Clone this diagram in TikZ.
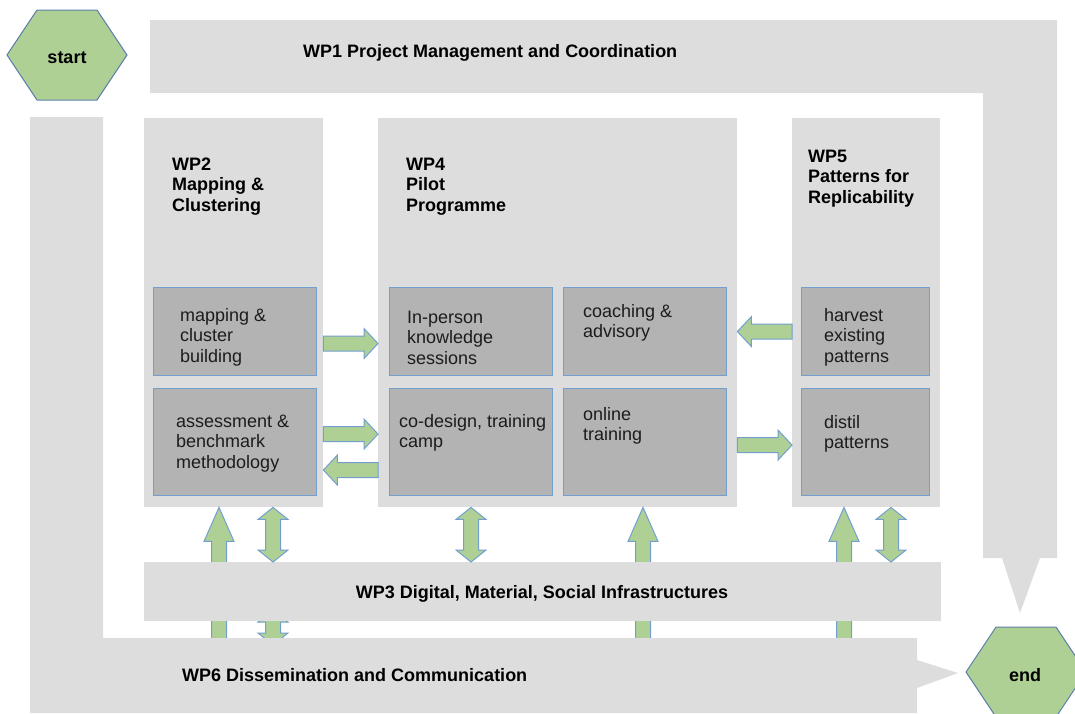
\documentclass[tikz,border=0pt]{standalone}
\usepackage{fontspec}
\setmainfont{Liberation Sans}
\usetikzlibrary{calc}

\definecolor{bandgray}{HTML}{DDDDDD}
\definecolor{boxgray}{HTML}{B3B3B3}
\definecolor{boxblue}{HTML}{729FCF}
\definecolor{leafgreen}{HTML}{AFD095}
\definecolor{hexblue}{HTML}{5B80AA}
\definecolor{inkgray}{HTML}{1C1C1C}

\tikzset{
    head len/.store in=\headlen, head len=14,
    band/.style={fill=bandgray, draw=none},
    panel/.style={band, anchor=north west, inner sep=0pt},
    task/.style={fill=boxgray, draw=boxblue, line width=1.1pt, anchor=north west, inner sep=0pt},
    body/.style={font=\fontsize{18}{20.5}\selectfont, text=inkgray, align=left, inner sep=0pt, anchor=base west},
    title/.style={body, text=black, font=\fontsize{18}{20.5}\selectfont\bfseries},
    green shape/.style={fill=leafgreen, draw=boxblue, line width=1pt, line join=miter},
    % block arrow from start to target
    fat arrow/.style={green shape, to path={
        let \p1=(\tikztostart), \p2=(\tikztotarget),
            \n1={atan2(\y2-\y1,\x2-\x1)}, \n2={veclen(\x2-\x1,\y2-\y1)}, \n3={\n2-\headlen} in
        [shift={(\p1)}, rotate=\n1]
        (0,-7.5) -- (\n3,-7.5) -- (\n3,-15) -- (\n2,0) -- (\n3,15) -- (\n3,7.5) -- (0,7.5) -- cycle}},
    % block arrow with a head on both ends
    fat double/.style={green shape, to path={
        let \p1=(\tikztostart), \p2=(\tikztotarget),
            \n1={atan2(\y2-\y1,\x2-\x1)}, \n2={veclen(\x2-\x1,\y2-\y1)}, \n3={\n2-\headlen} in
        [shift={(\p1)}, rotate=\n1]
        (0,0) -- (\headlen,-15) -- (\headlen,-7.5) -- (\n3,-7.5) -- (\n3,-15) -- (\n2,0)
        -- (\n3,15) -- (\n3,7.5) -- (\headlen,7.5) -- (\headlen,15) -- cycle}},
    hexa/.pic={\draw[fill=leafgreen, draw=hexblue, line width=1pt]
        (-60,0) -- (-30,-45) -- (30,-45) -- (60,0) -- (30,45) -- (-30,45) -- cycle;}
}

\begin{document}
\begin{tikzpicture}[x=1pt, y=-1pt]
    \useasboundingbox (0,0) rectangle (1075,713);

    % WP1 along the top and down the right
    \fill[band] (150,20) -- (1057,20) -- (1057,558) -- (1040,558) -- (1020,613) -- (1002,558)
        -- (983,558) -- (983,93) -- (150,93) -- cycle;
    \node[title] (wp1) at (303,57) {WP1 Project Management and Coordination};

    % work package panels
    \node[panel, minimum width=179pt, minimum height=389pt] (wp2) at (144,118) {};
    \node[panel, minimum width=359pt, minimum height=389pt] (wp4) at (378,118) {};
    \node[panel, minimum width=148pt, minimum height=389pt] (wp5) at (792,118) {};

    % base of a stacked label sits on its last line
    \node[title] (wp2t) at (172,211) {WP2\\Mapping \&\\Clustering};
    \node[title] (wp4t) at (406,211) {WP4\\Pilot\\Programme};
    \node[title] (wp5t) at (808,203) {WP5\\Patterns for\\Replicability};

    % tasks
    \node[task, minimum width=163pt, minimum height=88pt] (map) at (153,287) {};
    \node[task, minimum width=163pt, minimum height=107pt] (assess) at (153,388) {};
    \node[task, minimum width=163pt, minimum height=88pt] (person) at (389,287) {};
    \node[task, minimum width=163pt, minimum height=88pt] (coach) at (563,287) {};
    \node[task, minimum width=163pt, minimum height=107pt] (codesign) at (389,388) {};
    \node[task, minimum width=163pt, minimum height=107pt] (online) at (563,388) {};
    \node[task, minimum width=128pt, minimum height=88pt] (harvest) at (801,287) {};
    \node[task, minimum width=128pt, minimum height=107pt] (distil) at (801,388) {};

    \node[body] (maptxt) at ([xshift=27pt,yshift=-75pt]map.north west) {mapping \&\\cluster\\building};
    \node[body] (assesstxt) at ([xshift=23pt,yshift=-80pt]assess.north west) {assessment \&\\benchmark\\methodology};
    \node[body] (persontxt) at ([xshift=18pt,yshift=-77pt]person.north west) {In-person\\knowledge\\sessions};
    \node[body] (coachtxt) at ([xshift=20pt,yshift=-50.5pt]coach.north west) {coaching \&\\advisory};
    \node[body] (codesigntxt) at ([xshift=10pt,yshift=-59.5pt]codesign.north west) {co-design, training\\camp};
    \node[body] (onlinetxt) at ([xshift=20pt,yshift=-52.5pt]online.north west) {online\\training};
    \node[body] (harvesttxt) at ([xshift=23pt,yshift=-75pt]harvest.north west) {harvest\\existing\\patterns};
    \node[body] (distiltxt) at ([xshift=23pt,yshift=-60.5pt]distil.north west) {distil\\patterns};

    % feeds from WP6, mostly under the bands
    \coordinate (u1) at (219,690);
    \coordinate (u2) at (643,690);
    \coordinate (u3) at (844,690);
    \coordinate (d0) at (273,610);
    \draw[fat arrow, head len=34] (u1) to (u1 |- wp2.south);
    \draw[fat arrow, head len=34] (u2) to (u2 |- wp4.south);
    \draw[fat arrow, head len=34] (u3) to (u3 |- wp5.south);
    \draw[fat double, head len=12] (d0) to ($(d0)+(0,35)$);

    % WP3 and WP6
    \node[panel, minimum width=797pt, minimum height=59pt] (wp3) at (144,562) {};
    \node[title, anchor=base] (wp3t) at (542,598) {WP3 Digital, Material, Social Infrastructures};
    \fill[band] (30,117) -- (103,117) -- (103,638) -- (917,638) -- (917,660) -- (958,673)
        -- (917,688) -- (917,713) -- (30,713) -- cycle;
    \node[title] (wp6) at (182,681) {WP6 Dissemination and Communication};

    % exchanges with WP3
    \coordinate (d1) at ($(wp3.north west)+(129,0)$);
    \coordinate (d2) at ($(wp3.north west)+(327,0)$);
    \coordinate (d3) at ($(wp3.north west)+(747,0)$);
    \draw[fat double, head len=12] (d1 |- wp2.south) to (d1);
    \draw[fat double, head len=12] (d2 |- wp4.south) to (d2);
    \draw[fat double, head len=12] (d3 |- wp5.south) to (d3);

    % flows between panels
    \draw[fat arrow] ($(wp2.east |- map.east)+(0,12)$) to ($(wp4.west |- map.east)+(0,12)$);
    \draw[fat arrow] ($(wp2.east |- assess.east)+(0,-8)$) to ($(wp4.west |- assess.east)+(0,-8)$);
    \draw[fat arrow] ($(wp4.west |- assess.east)+(0,28)$) to ($(wp2.east |- assess.east)+(0,28)$);
    \draw[fat arrow] (wp5.west |- harvest.west) to (wp4.east |- harvest.west);
    \draw[fat arrow] ($(wp4.east |- online.west)+(0,3)$) to ($(wp5.west |- online.west)+(0,3)$);

    % start and end
    \pic at (67,55) {hexa};
    \node[title, anchor=base] (start) at (67,63) {start};
    \pic at (1026,672) {hexa};
    \node[title, anchor=base] (end) at (1025,681) {end};
\end{tikzpicture}
\end{document}
